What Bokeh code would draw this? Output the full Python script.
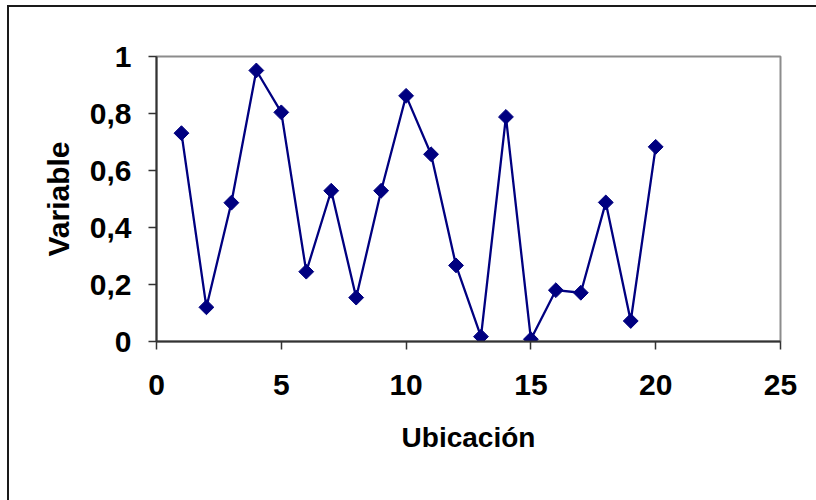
from bokeh.plotting import figure
from bokeh.models import FixedTicker
from bokeh.embed import file_html
from bokeh.resources import INLINE
import numpy as np

# Data
ubicacion = list(range(1, 21))
variable = [0.731, 0.120, 0.487, 0.951, 0.804, 0.245, 0.529, 0.154, 0.529, 0.862,
            0.657, 0.267, 0.017, 0.788, 0.008, 0.180, 0.171, 0.488, 0.072, 0.683]
x_ticks = [0, 5, 10, 15, 20, 25]
y_ticks = [0, 0.2, 0.4, 0.6, 0.8, 1.0]
y_tick_labels = ["0", "0,2", "0,4", "0,6", "0,8", "1"]

FONT = "Liberation Sans"

p = figure(frame_width=624, frame_height=285,
           min_border_left=147, min_border_right=36,
           min_border_top=49, min_border_bottom=159,
           x_range=(0, 25), y_range=(0, 1),
           output_backend="svg", toolbar_location=None,
           background_fill_color="white", border_fill_color="white")

p.styles = {"margin-left": "7px", "margin-top": "5px",
            "border-left": "2px solid #1a1a1a", "border-top": "2px solid #1a1a1a",
            "background-color": "white"}

p.line(ubicacion, variable, line_color="#000080", line_width=2.3)
p.scatter(ubicacion, variable, marker="square", size=10.5, angle=np.pi / 4,
          fill_color="#000080", line_color="#000080")

p.xgrid.visible = False
p.ygrid.visible = False
p.outline_line_color = "#8c8c8c"
p.outline_line_width = 2

p.xaxis.ticker = FixedTicker(ticks=x_ticks)
p.yaxis.ticker = FixedTicker(ticks=y_ticks)
p.yaxis.major_label_overrides = {t: l for t, l in zip(y_ticks, y_tick_labels)}
p.xaxis.major_label_overrides = {t: str(t) for t in x_ticks}

for ax in (p.xaxis[0], p.yaxis[0]):
    ax.axis_line_color = "#333333"
    ax.axis_line_width = 2
    ax.major_tick_line_color = "#333333"
    ax.major_tick_line_width = 1.5
    ax.major_tick_out = 8
    ax.major_tick_in = 0
    ax.minor_tick_line_color = None
    ax.major_label_text_font = FONT
    ax.major_label_text_font_style = "bold"
    ax.major_label_text_font_size = "30px"
    ax.major_label_text_color = "black"
    ax.axis_label_text_font = FONT
    ax.axis_label_text_font_style = "bold"
    ax.axis_label_text_color = "black"

p.xaxis.axis_label = "Ubicación"
p.yaxis.axis_label = "Variable"
p.xaxis.axis_label_text_font_size = "28px"
p.yaxis.axis_label_text_font_size = "30px"
p.xaxis.major_label_standoff = 25
p.yaxis.major_label_standoff = 17
p.xaxis.axis_label_standoff = 24
p.yaxis.axis_label_standoff = 12

html = file_html(p, INLINE)
html = html.replace("<body>", '<body style="margin:0;background:#e5ecdc;overflow:hidden;">', 1)
open("out.html", "w").write(html)
